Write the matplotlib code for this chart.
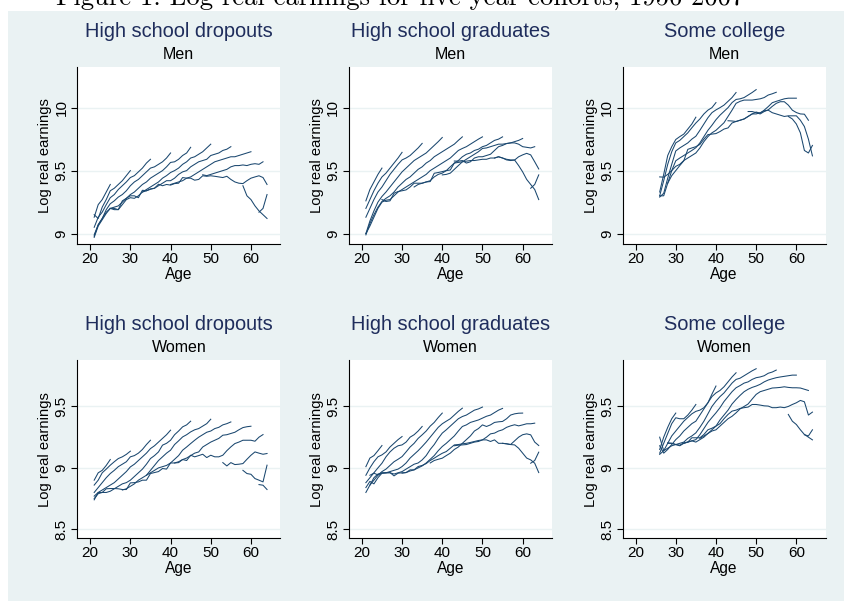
import matplotlib
matplotlib.use("Agg")
import matplotlib.pyplot as plt
from matplotlib.patches import Rectangle

# Each cohort line: (first age, yearly mean log real earnings from that age on)

# High school dropouts, men
dropout_men = [
    (21, [9.13, 9.23, 9.27, 9.33, 9.39]),
    (21, [9.15, 9.12, 9.21, 9.27, 9.34, 9.36, 9.39, 9.42, 9.46, 9.50]),
    (21, [9.05, 9.13, 9.17, 9.23, 9.285, 9.31, 9.35, 9.38, 9.41, 9.445,
          9.46, 9.49, 9.52, 9.56, 9.59]),
    (21, [8.99, 9.07, 9.12, 9.19, 9.237, 9.26, 9.29, 9.31, 9.34, 9.38,
          9.41, 9.43, 9.46, 9.49, 9.52, 9.53, 9.55, 9.57, 9.60, 9.64]),
    (21, [8.97, 9.06, 9.11, 9.16, 9.20, 9.21, 9.22, 9.25, 9.28, 9.31,
          9.33, 9.36, 9.39, 9.41, 9.44, 9.46, 9.48, 9.50, 9.53, 9.565,
          9.57, 9.59, 9.62, 9.64, 9.685]),
    (21, [8.98, 9.07, 9.12, 9.17, 9.20, 9.20, 9.19, 9.23, 9.27, 9.285,
          9.28, 9.30, 9.33, 9.35, 9.37, 9.39, 9.41, 9.44, 9.46, 9.485,
          9.50, 9.52, 9.55, 9.57, 9.60, 9.61, 9.63, 9.65, 9.68, 9.71]),
    (33, [9.33, 9.34, 9.355, 9.36, 9.38, 9.40, 9.42, 9.42, 9.44, 9.47,
          9.49, 9.50, 9.53, 9.55, 9.57, 9.58, 9.59, 9.62, 9.63, 9.64,
          9.66, 9.67, 9.69]),
    (40, [9.39, 9.40, 9.41, 9.42, 9.44, 9.45, 9.47, 9.49, 9.51, 9.53,
          9.55, 9.57, 9.58, 9.59, 9.60, 9.61, 9.61, 9.62, 9.63, 9.64,
          9.65]),
    (48, [9.467, 9.46, 9.47, 9.48, 9.49, 9.50, 9.51, 9.53, 9.54, 9.54,
          9.545, 9.54, 9.55, 9.555, 9.55, 9.57]),
    (25, [9.20, 9.19, 9.19, 9.26, 9.28, 9.30, 9.30, 9.285, 9.344, 9.34,
          9.352, 9.36, 9.392, 9.38, 9.39, 9.385, 9.397, 9.40, 9.445, 9.44,
          9.44, 9.424, 9.43, 9.459, 9.455, 9.459, 9.455, 9.45, 9.445, 9.455,
          9.43, 9.41, 9.40, 9.397, 9.42, 9.44, 9.45, 9.459, 9.445, 9.39]),
    (58, [9.38, 9.30, 9.27, 9.22, 9.18, 9.15, 9.12]),
    (62, [9.17, 9.20, 9.31]),
]

# High school graduates, men
grad_men = [
    (21, [9.26, 9.35, 9.41, 9.47, 9.52]),
    (21, [9.20, 9.27, 9.34, 9.40, 9.45, 9.48, 9.52, 9.56, 9.60, 9.645]),
    (21, [9.13, 9.20, 9.27, 9.33, 9.37, 9.42, 9.47, 9.51, 9.55, 9.585,
          9.60, 9.62, 9.65, 9.68, 9.716]),
    (21, [9.00, 9.10, 9.18, 9.25, 9.295, 9.33, 9.37, 9.41, 9.45, 9.49,
          9.52, 9.55, 9.58, 9.60, 9.62, 9.64, 9.67, 9.70, 9.73, 9.763]),
    (21, [8.99, 9.08, 9.15, 9.21, 9.255, 9.28, 9.30, 9.33, 9.37, 9.40,
          9.43, 9.45, 9.48, 9.51, 9.53, 9.56, 9.58, 9.61, 9.63, 9.65,
          9.67, 9.69, 9.71, 9.74, 9.768]),
    (21, [9.00, 9.06, 9.13, 9.20, 9.25, 9.265, 9.27, 9.30, 9.33, 9.35,
          9.37, 9.39, 9.41, 9.43, 9.45, 9.47, 9.50, 9.52, 9.54, 9.56,
          9.58, 9.60, 9.63, 9.66, 9.676, 9.69, 9.71, 9.73, 9.75, 9.768]),
    (33, [9.37, 9.39, 9.40, 9.41, 9.42, 9.45, 9.47, 9.48, 9.50, 9.53,
          9.56, 9.58, 9.61, 9.63, 9.64, 9.66, 9.67, 9.69, 9.70, 9.72,
          9.74, 9.75, 9.768]),
    (40, [9.466, 9.47, 9.48, 9.51, 9.54, 9.57, 9.59, 9.61, 9.63, 9.65,
          9.676, 9.68, 9.69, 9.70, 9.71, 9.71, 9.715, 9.72, 9.73, 9.74,
          9.755]),
    (43, [9.576, 9.575, 9.58, 9.56, 9.57, 9.60, 9.61, 9.61, 9.62, 9.63,
          9.66, 9.69, 9.70, 9.715, 9.72, 9.72, 9.71, 9.69, 9.685, 9.68,
          9.69]),
    (25, [9.27, 9.255, 9.26, 9.32, 9.334, 9.34, 9.347, 9.37, 9.40, 9.40,
          9.40, 9.41, 9.413, 9.479, 9.485, 9.492, 9.50, 9.505, 9.56, 9.565,
          9.57, 9.575, 9.58, 9.58, 9.585, 9.59, 9.59, 9.60, 9.60, 9.61,
          9.60, 9.59, 9.585, 9.584, 9.61, 9.625, 9.637, 9.625, 9.57, 9.513]),
    (53, [9.60, 9.61, 9.60, 9.585, 9.58, 9.584, 9.54, 9.49, 9.43, 9.39,
          9.35, 9.27]),
    (62, [9.36, 9.39, 9.466]),
]

# Some college, men
college_men = [
    (26, [9.33, 9.47, 9.62, 9.69, 9.747, 9.77, 9.79, 9.83, 9.87, 9.924]),
    (26, [9.30, 9.42, 9.55, 9.65, 9.72, 9.74, 9.77, 9.80, 9.84, 9.878,
          9.91, 9.95, 9.98, 10.0, 10.04]),
    (26, [9.29, 9.32, 9.44, 9.55, 9.656, 9.68, 9.70, 9.72, 9.75, 9.773,
          9.82, 9.87, 9.92, 9.96, 9.982, 10.0, 10.02, 10.05, 10.08, 10.12]),
    (26, [9.30, 9.30, 9.40, 9.50, 9.578, 9.60, 9.62, 9.64, 9.66, 9.682,
          9.72, 9.77, 9.82, 9.86, 9.904, 9.94, 9.97, 10.0, 10.04, 10.065,
          10.07, 10.08, 10.10, 10.12, 10.143]),
    (26, [9.45, 9.448, 9.47, 9.50, 9.534, 9.55, 9.58, 9.60, 9.62, 9.64,
          9.68, 9.73, 9.77, 9.80, 9.82, 9.85, 9.88, 9.93, 9.98, 10.034,
          10.05, 10.06, 10.06, 10.06, 10.065, 10.07, 10.08, 10.10, 10.11,
          10.122]),
    (28, [9.40, 9.46, 9.50, 9.54, 9.578, 9.669, 9.68, 9.69, 9.708, 9.75,
          9.786, 9.79, 9.794, 9.81, 9.83, 9.839, 9.878, 9.89, 9.90, 9.91,
          9.93, 9.95, 9.965, 9.956, 9.98, 10.008, 10.039, 10.05, 10.06, 10.07,
          10.075, 10.075, 10.075]),
    (48, [9.969, 9.969, 9.96, 9.95, 9.969, 9.982, 10.01, 10.034, 10.047,
          10.047, 10.02, 9.98, 9.961, 9.95, 9.948, 9.90]),
    (43, [9.896, 9.894, 9.89, 9.90, 9.91, 9.93, 9.95, 9.95, 9.96, 9.975,
          9.98, 9.96, 9.95, 9.94, 9.93, 9.935, 9.935, 9.935, 9.90, 9.85,
          9.75, 9.617]),
    (58, [9.93, 9.91, 9.87, 9.80, 9.66, 9.64, 9.70]),
]

# High school dropouts, women
dropout_women = [
    (21, [8.90, 8.96, 8.98, 9.02, 9.068]),
    (21, [8.86, 8.90, 8.96, 8.99, 9.022, 9.05, 9.076, 9.09, 9.11, 9.136]),
    (21, [8.80, 8.84, 8.88, 8.92, 8.954, 8.98, 9.01, 9.03, 9.05, 9.09,
          9.10, 9.12, 9.15, 9.19, 9.225]),
    (21, [8.77, 8.80, 8.82, 8.84, 8.86, 8.88, 8.91, 8.94, 8.97, 9.008,
          9.03, 9.06, 9.09, 9.12, 9.157, 9.18, 9.21, 9.24, 9.27, 9.307]),
    (21, [8.75, 8.79, 8.80, 8.80, 8.81, 8.83, 8.85, 8.87, 8.88, 8.90,
          8.93, 8.96, 8.99, 9.03, 9.076, 9.10, 9.13, 9.185, 9.20, 9.225,
          9.27, 9.30, 9.334, 9.35, 9.38]),
    (28, [8.82, 8.83, 8.85, 8.87, 8.90, 8.92, 8.94, 8.98, 9.02, 9.06,
          9.09, 9.12, 9.144, 9.19, 9.22, 9.252, 9.27, 9.293, 9.31, 9.32,
          9.34, 9.36, 9.396]),
    (34, [8.94, 8.96, 8.98, 9.00, 9.01, 9.02, 9.04, 9.07, 9.10, 9.144,
          9.17, 9.198, 9.225, 9.25, 9.27, 9.29, 9.30, 9.32, 9.33, 9.35,
          9.36, 9.374]),
    (41, [9.04, 9.05, 9.068, 9.08, 9.10, 9.12, 9.13, 9.17, 9.19, 9.21,
          9.225, 9.24, 9.266, 9.27, 9.28, 9.29, 9.31, 9.328, 9.335, 9.339]),
    (21, [8.74, 8.80, 8.80, 8.83, 8.832, 8.832, 8.83, 8.824, 8.824, 8.878,
          8.88, 8.886, 8.90, 8.90, 8.954, 8.962, 8.97, 8.995, 8.99, 9.04,
          9.04, 9.043, 9.068, 9.06, 9.103, 9.09, 9.10, 9.111, 9.084, 9.103,
          9.09, 9.09, 9.103, 9.14, 9.171, 9.198, 9.21, 9.225, 9.225, 9.225,
          9.217, 9.25, 9.271]),
    (53, [9.043, 9.016, 9.043, 9.027, 9.03, 9.035, 9.07, 9.103, 9.13, 9.12,
          9.111, 9.117]),
    (58, [8.98, 8.954, 8.948, 8.913, 8.90, 8.886, 9.022]),
    (62, [8.864, 8.859, 8.824]),
]

# High school graduates, women
grad_women = [
    (21, [9.01, 9.08, 9.10, 9.14, 9.182]),
    (21, [8.94, 9.00, 9.05, 9.09, 9.106, 9.13, 9.17, 9.20, 9.23, 9.255]),
    (21, [8.88, 8.92, 8.96, 9.00, 9.038, 9.09, 9.13, 9.16, 9.18, 9.187,
          9.21, 9.25, 9.27, 9.30, 9.337]),
    (21, [8.80, 8.86, 8.90, 8.94, 8.97, 8.99, 9.02, 9.05, 9.07, 9.092,
          9.13, 9.17, 9.20, 9.24, 9.269, 9.30, 9.34, 9.37, 9.41, 9.446]),
    (21, [8.84, 8.89, 8.87, 8.92, 8.957, 8.96, 8.97, 8.98, 8.99, 9.011,
          9.04, 9.08, 9.11, 9.14, 9.174, 9.21, 9.25, 9.29, 9.33, 9.359,
          9.38, 9.40, 9.43, 9.46, 9.486]),
    (22, [8.86, 8.92, 8.95, 8.96, 8.96, 8.96, 8.95, 8.96, 8.97, 8.99,
          9.01, 9.03, 9.04, 9.065, 9.10, 9.15, 9.19, 9.24, 9.283, 9.31,
          9.34, 9.37, 9.40, 9.418, 9.43, 9.45, 9.47, 9.48, 9.495]),
    (30, [8.957, 8.962, 8.975, 8.984, 9.00, 9.016, 9.04, 9.07, 9.10, 9.14,
          9.174, 9.20, 9.23, 9.26, 9.30, 9.337, 9.35, 9.37, 9.38, 9.39,
          9.405, 9.42, 9.43, 9.45, 9.47, 9.484]),
    (37, [9.04, 9.06, 9.07, 9.079, 9.10, 9.12, 9.15, 9.17, 9.20, 9.23,
          9.26, 9.30, 9.32, 9.35, 9.337, 9.35, 9.37, 9.375, 9.378, 9.40,
          9.43, 9.44, 9.445, 9.446]),
    (43, [9.18, 9.185, 9.187, 9.19, 9.20, 9.21, 9.215, 9.228, 9.25, 9.277,
          9.283, 9.30, 9.31, 9.33, 9.342, 9.351, 9.342, 9.35, 9.359, 9.359,
          9.364]),
    (22, [8.94, 8.957, 8.943, 8.957, 8.96, 8.962, 8.935, 8.957, 8.96, 8.962,
          8.984, 8.984, 9.011, 9.02, 9.035, 9.06, 9.079, 9.10, 9.119, 9.133,
          9.16, 9.187, 9.19, 9.196, 9.20, 9.207, 9.215, 9.223, 9.228, 9.228,
          9.215, 9.228, 9.20, 9.20, 9.196, 9.19, 9.22, 9.25, 9.27, 9.277,
          9.269, 9.21, 9.182]),
    (55, [9.20, 9.196, 9.19, 9.187, 9.16, 9.12, 9.08, 9.065, 9.038, 8.962]),
    (62, [9.038, 9.06, 9.128]),
]

# Some college, women
college_women = [
    (26, [9.15, 9.25, 9.33, 9.40, 9.446]),
    (26, [9.12, 9.20, 9.28, 9.36, 9.408, 9.40, 9.40, 9.43, 9.47, 9.516]),
    (26, [9.11, 9.14, 9.20, 9.26, 9.30, 9.34, 9.38, 9.41, 9.44, 9.46,
          9.47, 9.49, 9.53, 9.60, 9.666]),
    (26, [9.18, 9.12, 9.15, 9.19, 9.23, 9.26, 9.30, 9.33, 9.36, 9.38,
          9.43, 9.48, 9.53, 9.58, 9.61, 9.63, 9.66, 9.70, 9.74, 9.774]),
    (26, [9.25, 9.14, 9.16, 9.18, 9.19, 9.20, 9.21, 9.24, 9.26, 9.285,
          9.33, 9.38, 9.44, 9.50, 9.543, 9.58, 9.61, 9.65, 9.69, 9.72,
          9.73, 9.75, 9.77, 9.79, 9.807]),
    (28, [9.20, 9.20, 9.19, 9.18, 9.20, 9.21, 9.22, 9.23, 9.27, 9.32,
          9.37, 9.41, 9.448, 9.49, 9.54, 9.58, 9.62, 9.652, 9.67, 9.69,
          9.70, 9.72, 9.734, 9.74, 9.75, 9.77, 9.78, 9.796]),
    (32, [9.20, 9.21, 9.22, 9.21, 9.23, 9.25, 9.28, 9.31, 9.34, 9.39,
          9.43, 9.47, 9.52, 9.557, 9.59, 9.62, 9.64, 9.655, 9.666, 9.68,
          9.70, 9.715, 9.725, 9.734, 9.74, 9.745, 9.75, 9.755, 9.755]),
    (36, [9.24, 9.26, 9.28, 9.30, 9.31, 9.34, 9.37, 9.40, 9.42, 9.448,
          9.48, 9.50, 9.52, 9.56, 9.598, 9.62, 9.63, 9.64, 9.65, 9.652,
          9.655, 9.66, 9.655, 9.652, 9.652, 9.65, 9.64, 9.63]),
    (28, [9.204, 9.20, 9.19, 9.185, 9.204, 9.21, 9.245, 9.245, 9.245, 9.272,
          9.31, 9.323, 9.34, 9.36, 9.40, 9.435, 9.462, 9.47, 9.484, 9.49,
          9.495, 9.516, 9.516, 9.511, 9.505, 9.503, 9.49, 9.49, 9.495, 9.49,
          9.50, 9.516, 9.53, 9.549, 9.538, 9.43, 9.454]),
    (58, [9.435, 9.38, 9.353, 9.31, 9.272, 9.25, 9.228]),
    (62, [9.27, 9.26, 9.31]),
]

panels = [
    (dropout_men, "High school dropouts", "Men", 0, 0),
    (grad_men, "High school graduates", "Men", 0, 1),
    (college_men, "Some college", "Men", 0, 2),
    (dropout_women, "High school dropouts", "Women", 1, 0),
    (grad_women, "High school graduates", "Women", 1, 1),
    (college_women, "Some college", "Women", 1, 2),
]

yticks = {0: [9, 9.5, 10], 1: [8.5, 9, 9.5]}
ylabels = {0: ["9", "9.5", "10"], 1: ["8.5", "9", "9.5"]}
ylims = {0: (8.915, 10.325), 1: (8.427, 9.878)}

W, H = 844, 601
BG = "#EAF2F3"
LINE = "#1a476f"
NAVY = "#1f2d5c"

plt.rcParams['font.family'] = ['Liberation Sans', 'DejaVu Sans']

fig = plt.figure(figsize=(W / 100, H / 100), dpi=100)
fig.add_artist(Rectangle((8 / W, 0), 1, 1 - 11 / H, transform=fig.transFigure,
                         facecolor=BG, edgecolor='none', zorder=0))

# caption of the page, cut at the top edge as in the source
fig.text(400 / W, 1 - 5 / H,
         "Figure 1: Log real earnings for five year cohorts, 1956-2007",
         ha='center', va='baseline', fontsize=19.2, family='cmr10')

lefts = [77.3, 349, 622.7]
tops = [66.7, 360]
aw = 203
ah = [177.6, 178.3]

for curves, title, sub, row, col in panels:
    x0, top, h = lefts[col], tops[row], ah[row]
    ax = fig.add_axes([x0 / W, 1 - (top + h) / H, aw / W, h / H])
    for start, vals in curves:
        ages = [start + i for i in range(len(vals))]
        ax.plot(ages, vals, color=LINE, lw=0.75)

    ax.set_xlim(16.8, 67.3)
    ax.set_ylim(*ylims[row])
    ax.set_xticks([20, 30, 40, 50, 60])
    ax.set_yticks(yticks[row])
    ax.set_yticklabels(ylabels[row], rotation=90, va='center')
    ax.tick_params(axis='both', labelsize=11, length=4.1, width=0.8, color='black')
    ax.tick_params(axis='x', pad=1.8)
    ax.tick_params(axis='y', pad=2.2)
    ax.yaxis.grid(True, color=BG, lw=1.0)
    ax.set_axisbelow(True)
    for s in ['top', 'right']:
        ax.spines[s].set_visible(False)
    for s in ['left', 'bottom']:
        ax.spines[s].set_linewidth(0.8)
        ax.spines[s].set_color('black')

    ax.set_xlabel("Age", fontsize=11.2, va='center')
    ax.xaxis.set_label_coords(0.5, -30.7 / h)
    ax.set_ylabel("Log real earnings", fontsize=10.6, va='center')
    ax.yaxis.set_label_coords(-32 / aw, 0.5)

    cx = (x0 + aw / 2) / W
    fig.text(cx, 1 - (top - 35) / H, title, ha='center', va='center',
             fontsize=14.4, color=NAVY)
    fig.text(cx, 1 - (top - 12.4) / H, sub, ha='center', va='center',
             fontsize=11.5, color='black')

fig.savefig("out.png", dpi=100)
